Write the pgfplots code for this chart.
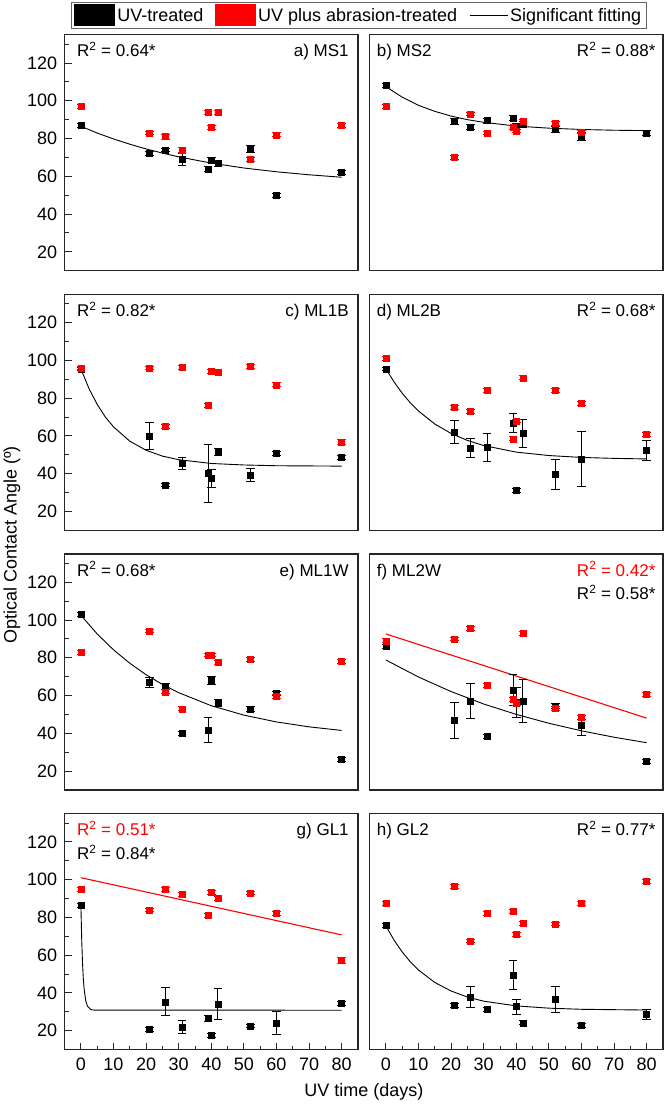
\documentclass[border=0pt]{standalone}
\usepackage{fontspec}
\setmainfont{Liberation Sans}
\usepackage{pgfplots}
\pgfplotsset{compat=1.18}
\newcommand{\fs}{\fontsize{17}{20}\selectfont}
\newcommand{\fl}{\fontsize{18}{21}\selectfont}
\pgfplotsset{
  base/.style={scale only axis, width=293.4pt, height=236pt,
    xmin=-5, xmax=85, ymin=10, ymax=135,
    axis line style={line width=1.2pt, black!85},
    tick align=inside, tick style={line width=0.9pt, black!85},
    major tick length=7pt, minor tick length=4pt,
    /pgf/number format/assume math mode=true,
    tick label style={font=\fl},
    xticklabel style={yshift=-5pt}, yticklabel style={xshift=-4pt},
    anchor=north west},
  leftcol/.style={ytick={20,40,...,120}, minor ytick={30,50,...,130}, ytick pos=left},
  rightcol/.style={ytick=\empty},
  bottomrow/.style={xtick={0,10,...,80}, minor xtick={5,15,...,75}, xtick pos=bottom},
  notbottom/.style={xtick=\empty},
  bk/.style={forget plot, only marks, mark=square*, mark size=3pt, black,
    error bars/.cd, y dir=both, y explicit, error mark=|,
    error bar style={line width=0.8pt, black},
    error mark options={line width=0.8pt, mark size=4.3pt, black}},
  rd/.style={forget plot, only marks, mark=square*, mark size=3pt, red,
    error bars/.cd, y dir=both, y explicit, error mark=|,
    error bar style={line width=0.8pt, red},
    error mark options={line width=0.8pt, mark size=4.3pt, red}},
  fitb/.style={forget plot, no marks, black, line width=0.9pt},
  fitr/.style={forget plot, no marks, red, line width=1.1pt},
}
\newcommand{\Rsq}[1]{R\textsuperscript{2} = #1*}
\begin{document}
\begin{tikzpicture}
\path[use as bounding box] (0,0) rectangle (666pt,-1112pt);
% ---------- a) MS1
\begin{axis}[base, leftcol, notbottom, at={(64.6pt,-34.7pt)},
  legend columns=3,
  legend style={at={(0.022,1.1386)}, anchor=north west, font=\fl,
    draw=black!60, line width=0.8pt, inner xsep=3pt, inner ysep=2pt,
    /tikz/every even column/.append style={column sep=10pt}},
  legend cell align=left]
\addlegendimage{legend image code/.code={\fill[black] (0pt,-10.5pt) rectangle (40pt,10.5pt);}}
\addlegendentry{UV-treated}
\addlegendimage{legend image code/.code={\fill[red] (0pt,-10.5pt) rectangle (40pt,10.5pt);}}
\addlegendentry{UV plus abrasion-treated}
\addlegendimage{legend image code/.code={\draw[black, line width=1pt] (0pt,0pt) -- (38pt,0pt);}}
\addlegendentry{Significant fitting}
\addplot[fitb] coordinates {(0,86.5) (5,82.9) (10,79.8) (15,77.0) (20,74.5) (25,72.3) (30,70.3) (40,67.0) (50,64.4) (60,62.4) (70,60.8) (80,59.5)};
\addplot[bk] coordinates {(0,87) +- (0,1) (21,72) +- (0,1) (26,74) +- (0,1) (31,69) +- (0,3.2) (39,64) +- (0,1.5) (40,68.6) +- (0,1.5) (42,67) +- (0,1.5) (52,74.5) +- (0,2) (60,50) +- (0,1) (80,62) +- (0,1)};
\addplot[rd] coordinates {(0,97) +- (0,1) (21,83) +- (0,1) (26,81) +- (0,1.3) (31,74) +- (0,1.5) (39,94) +- (0,1) (40,86) +- (0,1) (42,94) +- (0,1) (52,69) +- (0,1) (60,82) +- (0,1) (80,87) +- (0,1)};
\node[anchor=base west, font=\fs, inner sep=0pt] at (rel axis cs:0.042,0.906) {\Rsq{0.64}};
\node[anchor=base east, font=\fs, inner sep=0pt] at (rel axis cs:0.969,0.906) {a) MS1};
\end{axis}
% ---------- b) MS2
\begin{axis}[base, rightcol, notbottom, at={(369.6pt,-34.7pt)}]
\addplot[fitb] coordinates {(0,107.5) (5,101.9) (10,97.6) (15,94.4) (20,91.9) (25,90.0) (30,88.6) (40,86.6) (50,85.5) (60,84.8) (70,84.4) (80,84.2)};
\addplot[bk] coordinates {(0,108) +- (0,1) (21,89) +- (0,1.5) (26,86) +- (0,1.3) (31,89.5) +- (0,1.3) (39,91) +- (0,1.5) (40,86.5) +- (0,1.5) (42,87.5) +- (0,1.5) (52,85) +- (0,1.5) (60,81) +- (0,2) (80,83) +- (0,1.5)};
\addplot[rd] coordinates {(0,97) +- (0,1) (21,70) +- (0,1) (26,93) +- (0,1) (31,83) +- (0,1) (39,86) +- (0,1) (40,84) +- (0,1) (42,89) +- (0,1) (52,88) +- (0,1) (60,83.5) +- (0,1)};
\node[anchor=base west, font=\fs, inner sep=0pt] at (rel axis cs:0.024,0.906) {b) MS2};
\node[anchor=base east, font=\fs, inner sep=0pt] at (rel axis cs:0.975,0.906) {\Rsq{0.88}};
\end{axis}
% ---------- c) ML1B
\begin{axis}[base, leftcol, notbottom, at={(64.6pt,-294.3pt)}]
\addplot[fitb] coordinates {(0,95.5) (2.5,85.0) (5,76.7) (7.5,70.0) (10,64.8) (15,57.2) (20,52.4) (25,49.3) (30,47.4) (40,45.4) (50,44.6) (60,44.2) (80,44.0)};
\addplot[bk] coordinates {(0,95.5) +- (0,1) (21,60) +- (0,6.9) (26,34) +- (0,1) (31,45.5) +- (0,3.3) (39,40.2) +- (0,15.3) (40,37.5) +- (0,4.6) (42,51.6) +- (0,1.8) (52,39.3) +- (0,3.4) (60,50.8) +- (0,1) (80,48.5) +- (0,1)};
\addplot[rd] coordinates {(0,96) +- (0,1) (21,96) +- (0,1) (26,65) +- (0,1) (31,96.3) +- (0,1) (39,76) +- (0,1) (40,94.2) +- (0,1) (42,93.5) +- (0,1) (52,96.7) +- (0,1) (60,87.1) +- (0,1) (80,56.8) +- (0,1.5)};
\node[anchor=base west, font=\fs, inner sep=0pt] at (rel axis cs:0.042,0.906) {\Rsq{0.82}};
\node[anchor=base east, font=\fs, inner sep=0pt] at (rel axis cs:0.969,0.906) {c) ML1B};
\end{axis}
% ---------- d) ML2B
\begin{axis}[base, rightcol, notbottom, at={(369.6pt,-294.3pt)}]
\addplot[fitb] coordinates {(0,95.5) (2.5,88.6) (5,82.6) (7.5,77.5) (10,73.2) (15,66.3) (20,61.3) (25,57.6) (30,54.9) (40,51.4) (50,49.6) (60,48.6) (70,48.1) (80,47.8)};
\addplot[bk] coordinates {(0,95.5) +- (0,1) (21,62) +- (0,6) (26,53.6) +- (0,5) (31,53.9) +- (0,7.6) (39,66.7) +- (0,5) (40,31.3) +- (0,1) (42,61.5) +- (0,7.5) (52,39.8) +- (0,7.9) (60,47.9) +- (0,14.5) (80,52.2) +- (0,5.4)};
\addplot[rd] coordinates {(0,101) +- (0,1) (21,75) +- (0,1) (26,73) +- (0,1) (31,84.2) +- (0,1) (39,58.5) +- (0,1) (40,68) +- (0,1) (42,90.8) +- (0,1) (52,84.2) +- (0,1) (60,77.3) +- (0,1) (80,61) +- (0,1)};
\node[anchor=base west, font=\fs, inner sep=0pt] at (rel axis cs:0.024,0.906) {d) ML2B};
\node[anchor=base east, font=\fs, inner sep=0pt] at (rel axis cs:0.975,0.906) {\Rsq{0.68}};
\end{axis}
% ---------- e) ML1W
\begin{axis}[base, leftcol, notbottom, at={(64.6pt,-553.9pt)}]
\addplot[fitb] coordinates {(0,102.5) (5,92.6) (10,84.2) (15,77.1) (20,71.0) (25,65.9) (30,61.5) (40,54.6) (50,49.6) (60,46.0) (70,43.4) (80,41.5)};
\addplot[bk] coordinates {(0,103) +- (0,1.2) (21,67) +- (0,2.6) (26,65) +- (0,1.5) (31,40) +- (0,1) (39,41.7) +- (0,6.6) (40,68.2) +- (0,2.1) (42,56) +- (0,1.8) (52,53) +- (0,1.2) (60,61) +- (0,1) (80,26.2) +- (0,1)};
\addplot[rd] coordinates {(0,83) +- (0,1) (21,94.2) +- (0,1) (26,62) +- (0,1) (31,53) +- (0,1) (39,81.5) +- (0,1) (40,81.5) +- (0,1) (42,77.6) +- (0,1) (52,79) +- (0,1) (60,59.5) +- (0,1) (80,78) +- (0,1)};
\node[anchor=base west, font=\fs, inner sep=0pt] at (rel axis cs:0.042,0.906) {\Rsq{0.68}};
\node[anchor=base east, font=\fs, inner sep=0pt] at (rel axis cs:0.969,0.906) {e) ML1W};
\end{axis}
% ---------- f) ML2W
\begin{axis}[base, rightcol, notbottom, at={(369.6pt,-553.9pt)}]
\addplot[fitr] coordinates {(0,92.6) (80,48)};
\addplot[fitb] coordinates {(0,78.8) (10,69.8) (20,62.1) (30,55.5) (40,50.0) (50,45.3) (60,41.3) (70,37.9) (80,35.0)};
\addplot[bk] coordinates {(0,86.2) +- (0,1) (21,46.7) +- (0,9.6) (26,57.2) +- (0,9.1) (31,38.5) +- (0,1) (39,63) +- (0,8) (40,56.5) +- (0,8) (42,57.2) +- (0,11.5) (52,54.5) +- (0,1.5) (60,44.4) +- (0,5.3) (80,25.3) +- (0,1)};
\addplot[rd] coordinates {(0,89) +- (0,1) (21,90) +- (0,1) (26,95.4) +- (0,1) (31,65.2) +- (0,1) (39,58) +- (0,1) (40,55.9) +- (0,1) (42,93.1) +- (0,1) (52,53.3) +- (0,1) (60,48.3) +- (0,1) (80,60.6) +- (0,1)};
\node[anchor=base west, font=\fs, inner sep=0pt] at (rel axis cs:0.024,0.906) {f) ML2W};
\node[anchor=base east, font=\fs, inner sep=0pt, red] at (rel axis cs:0.975,0.906) {\Rsq{0.42}};
\node[anchor=base east, font=\fs, inner sep=0pt] at (rel axis cs:0.975,0.806) {\Rsq{0.58}};
\end{axis}
% ---------- g) GL1
\begin{axis}[base, leftcol, bottomrow, at={(64.6pt,-813.5pt)}]
\addplot[fitr] coordinates {(0,101) (80,70.7)};
\addplot[fitb] coordinates {(0,86.4) (0.25,68.1) (0.5,55.6) (0.75,47.4) (1,41.9) (1.5,35.7) (2,33.0) (3,31.2) (4,30.9) (80,30.8)};
\addplot[bk] coordinates {(0,86.4) +- (0,1) (21,20.5) +- (0,1) (26,35.3) +- (0,7.4) (31,21.8) +- (0,3.5) (39,26.5) +- (0,1.5) (40,17.5) +- (0,1.2) (42,34) +- (0,8.2) (52,22.5) +- (0,1) (60,24.2) +- (0,6) (80,34.5) +- (0,1)};
\addplot[rd] coordinates {(0,95) +- (0,1) (21,84) +- (0,1) (26,95) +- (0,1) (31,92) +- (0,1) (39,81) +- (0,1) (40,93.3) +- (0,1) (42,90.2) +- (0,1) (52,93) +- (0,1) (60,82) +- (0,1) (80,57.2) +- (0,1.5)};
\node[anchor=base west, font=\fs, inner sep=0pt, red] at (rel axis cs:0.042,0.906) {\Rsq{0.51}};
\node[anchor=base west, font=\fs, inner sep=0pt] at (rel axis cs:0.042,0.806) {\Rsq{0.84}};
\node[anchor=base east, font=\fs, inner sep=0pt] at (rel axis cs:0.969,0.906) {g) GL1};
\end{axis}
% ---------- h) GL2
\begin{axis}[base, rightcol, bottomrow, at={(369.6pt,-813.5pt)}]
\addplot[fitb] coordinates {(0,75.5) (2.5,67.9) (5,61.7) (7.5,56.4) (10,52.1) (15,45.5) (20,41.0) (25,37.8) (30,35.6) (40,33.1) (50,31.9) (60,31.3) (80,30.9)};
\addplot[bk] coordinates {(0,75.6) +- (0,1) (21,33.5) +- (0,1) (26,37.8) +- (0,5.6) (31,31.3) +- (0,1) (39,49.5) +- (0,7.9) (40,32.7) +- (0,4.1) (42,24.2) +- (0,1) (52,36.6) +- (0,7) (60,22.8) +- (0,1) (80,28.6) +- (0,2.8)};
\addplot[rd] coordinates {(0,87.5) +- (0,1) (21,96.4) +- (0,1) (26,67.5) +- (0,1) (31,82) +- (0,1) (39,83) +- (0,1) (40,71) +- (0,1) (42,77) +- (0,1) (52,76.5) +- (0,1) (60,87.5) +- (0,1) (80,99) +- (0,1)};
\node[anchor=base west, font=\fs, inner sep=0pt] at (rel axis cs:0.024,0.906) {h) GL2};
\node[anchor=base east, font=\fs, inner sep=0pt] at (rel axis cs:0.975,0.906) {\Rsq{0.77}};
\end{axis}
\node[rotate=90, font=\fl] at (12pt,-545pt) {Optical Contact Angle (º)};
\node[font=\fl] at (364pt,-1092pt) {UV time (days)};
\end{tikzpicture}
\end{document}
